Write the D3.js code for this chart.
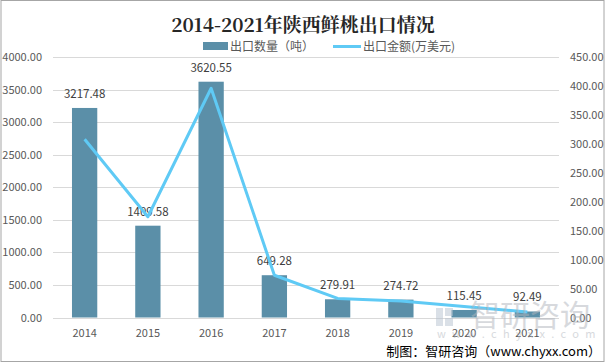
<!DOCTYPE html>
<html><head><meta charset="utf-8">
<script src="https://cdn.jsdelivr.net/npm/d3@7/dist/d3.min.js"></script>
<style>body{margin:0;background:#fff;}svg{display:block;}</style>
</head><body>
<script>
const years = ["2014","2015","2016","2017","2018","2019","2020","2021"];
const quantity = [3217.48, 1409.58, 3620.55, 649.28, 279.91, 274.72, 115.45, 92.49];
const amount = [308, 174, 396, 73, 33, 28.5, 19, 9.5];
const leftTicks = [0,500,1000,1500,2000,2500,3000,3500,4000];
const rightTicks = [0,50,100,150,200,250,300,350,400,450];
const titleText = "2014-2021年陕西鲜桃出口情况";
const legendLabels = ["出口数量（吨）","出口金额(万美元)"];
const sourceText = "制图：智研咨询（www.chyxx.com）";

const W = 606, H = 364;
const font = "'Noto Sans CJK SC','Liberation Sans',sans-serif";
const svg = d3.select("body").append("svg").attr("width", W).attr("height", H);
svg.append("rect").attr("x",0).attr("y",0).attr("width",W).attr("height",H).attr("fill","#fff");
svg.append("rect").attr("x",1).attr("y",0.5).attr("width",603).attr("height",361)
  .attr("fill","none").attr("stroke","#a6a6a6").attr("stroke-width",1);

const plot = {l:53, r:559, t:57, b:317.5};
const x = d3.scaleBand().domain(years).range([plot.l, plot.r]);
const yL = d3.scaleLinear().domain([0,4000]).range([plot.b, plot.t]);
const yR = d3.scaleLinear().domain([0,450]).range([plot.b, plot.t]);

// gridlines
svg.append("g").selectAll("line").data(leftTicks).join("line")
  .attr("x1", plot.l).attr("x2", plot.r)
  .attr("y1", d => Math.round(yL(d))+0.5).attr("y2", d => Math.round(yL(d))+0.5)
  .attr("stroke", "#d9d9d9").attr("stroke-width", 1);

// left axis
const axL = d3.axisLeft(yL).tickValues(leftTicks).tickFormat(d3.format(".2f")).tickSize(0).tickPadding(0);
const gL = svg.append("g").attr("transform", "translate(42,0)").call(axL);
gL.select(".domain").remove();
gL.selectAll("text").attr("fill","#595959").style("font-family",font).style("font-size","11px");

// right axis
const axR = d3.axisRight(yR).tickValues(rightTicks).tickFormat(d3.format(".2f")).tickSize(0).tickPadding(0);
const gR = svg.append("g").attr("transform", "translate(570,0)").call(axR);
gR.select(".domain").remove();
gR.selectAll("text").attr("fill","#595959").style("font-family",font).style("font-size","11px");

// bottom axis
const axB = d3.axisBottom(x).tickSize(0).tickPadding(0);
const gB = svg.append("g").attr("transform", `translate(0,${plot.b})`).call(axB);
gB.select(".domain").remove();
gB.selectAll("text").attr("fill","#595959").attr("dy","0").attr("y",19).style("font-family",font).style("font-size","11px");

// bars
const bw = x.bandwidth()*0.4;
svg.append("g").selectAll("rect").data(years).join("rect")
  .attr("x", (d,i) => x(d) + x.bandwidth()/2 - bw/2)
  .attr("y", (d,i) => yL(quantity[i]))
  .attr("width", bw)
  .attr("height", (d,i) => plot.b - yL(quantity[i]))
  .attr("fill", "#5b8fa8");

// bar labels
svg.append("g").selectAll("text").data(years).join("text")
  .attr("x", d => x(d) + x.bandwidth()/2)
  .attr("y", (d,i) => yL(quantity[i]) - 10)
  .attr("text-anchor","middle")
  .attr("fill","#404040").style("font-family",font).style("font-size","11.5px")
  .text((d,i) => quantity[i].toFixed(2));

// line
const line = d3.line().x((d,i) => x(years[i]) + x.bandwidth()/2).y(d => yR(d));
svg.append("path").datum(amount).attr("d", line)
  .attr("fill","none").attr("stroke","#5fcaf5").attr("stroke-width",3).attr("stroke-linejoin","round");

// title
svg.append("text").attr("x", 303).attr("y", 32).attr("text-anchor","middle")
  .attr("fill","#262626").style("font-family","'Noto Serif CJK SC','Noto Sans CJK SC',serif").style("font-size","19px").style("font-weight","bold")
  .text(titleText);

// legend
svg.append("rect").attr("x",203).attr("y",42).attr("width",25).attr("height",8).attr("fill","#5b8fa8");
svg.append("text").attr("x",230).attr("y",50.5).attr("fill","#595959").style("font-family",font).style("font-size","12px").text(legendLabels[0]);
svg.append("line").attr("x1",333).attr("x2",361).attr("y1",46.5).attr("y2",46.5).attr("stroke","#5fcaf5").attr("stroke-width",3);
svg.append("text").attr("x",363).attr("y",50.5).attr("fill","#595959").style("font-family",font).style("font-size","12px").text(legendLabels[1]);

// watermark
const wm = svg.append("g").attr("opacity",0.5);
wm.append("rect").attr("x",436).attr("y",308).attr("width",7).attr("height",18).attr("fill","#b7c3d0");
wm.append("rect").attr("x",445).attr("y",308).attr("width",8).attr("height",8).attr("fill","#b7c3d0");
wm.append("rect").attr("x",445).attr("y",318).attr("width",8).attr("height",8).attr("fill","#b7c3d0");
wm.append("text").attr("x",470).attr("y",326).attr("fill","#b0b5bc").style("font-family",font).style("font-size","30px").text("智研咨询");
wm.append("text").attr("x",437).attr("y",338).attr("fill","#b0b5bc").style("font-family",font).style("font-size","11px").style("letter-spacing","6.3px").text("www.chyxx.com");

// source
svg.append("text").attr("x",601).attr("y",356).attr("text-anchor","end")
  .attr("fill","#000").style("font-family",font).style("font-size","13px").text(sourceText);
</script>
</body></html>
